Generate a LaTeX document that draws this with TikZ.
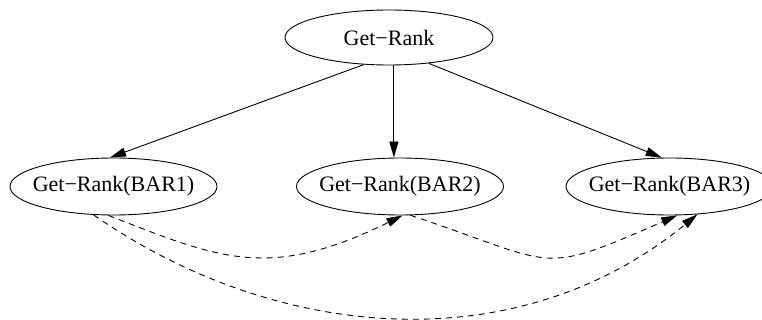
\documentclass[tikz,border=0pt]{standalone}
\usepackage{fontspec}
\setmainfont{Liberation Serif}
\usetikzlibrary{shapes.geometric,arrows.meta}
\tikzset{
  oval/.style={ellipse, draw, line width=0.9pt, inner sep=0pt,
    minimum width=207pt, minimum height=57pt,
    font=\fontsize{22}{26}\selectfont},
  edge/.style={line width=0.9pt, -{Triangle[length=16pt,width=9pt]}},
  dedge/.style={edge, dash pattern=on 6pt off 5pt}
}
\begin{document}
\begin{tikzpicture}[x=1pt,y=-1pt]
\useasboundingbox (0,0) rectangle (762,320);
\clip (0,0) rectangle (762,320);
\node[oval, minimum width=208pt, minimum height=55pt] (top) at (389,37.5) {\makebox[0pt]{Get−Rank}};
\node[oval] (bar1) at (113.5,186.5) {\makebox[0pt]{Get−Rank(BAR1)}};
\node[oval] (bar2) at (400,186.5) {\makebox[0pt]{Get−Rank(BAR2)}};
\node[oval] (bar3) at (669.5,186.5) {\makebox[0pt]{Get−Rank(BAR3)}};
\draw[edge] (top.227) -- (bar1.97);
\draw[edge] (top.-80) -- (top.-80 |- bar2.north);
\draw[edge] (top.-33) -- (bar3.105);
\draw[dedge] (bar1.260) .. controls (220,259) and (269,281) .. (bar2.275);
\draw[dedge] (bar2.290) .. controls (560,265) and (536,277) .. (bar3.285);
\draw[dedge] (bar1.235) .. controls (275,341) and (516,363) .. (bar3.-45);
\end{tikzpicture}
\end{document}
